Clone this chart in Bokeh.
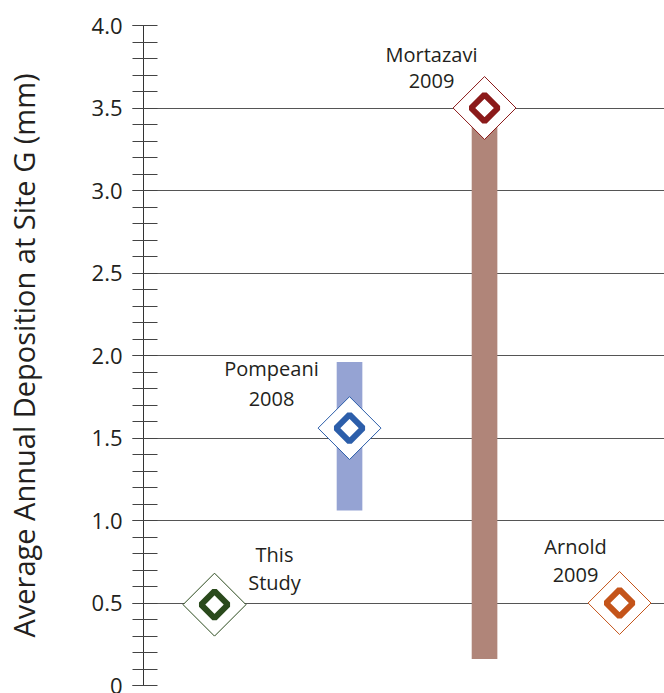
import numpy as np
from bokeh.plotting import figure
from bokeh.models import Range1d, FixedTicker, ColumnDataSource
from bokeh.core.properties import value
from bokeh.embed import file_html
from bokeh.resources import INLINE

# ---- data ----
studies = ["This Study", "Pompeani 2008", "Mortazavi 2009", "Arnold 2009"]
label_line1 = ["This", "Pompeani", "Mortazavi", "Arnold"]
label_line2 = ["Study", "2008", "2009", "2009"]
study_pos = [1, 2, 3, 4]
deposition = [0.49, 1.56, 3.5, 0.5]
range_pos = [2, 3]
range_low = [1.06, 0.16]
range_high = [1.96, 3.5]
y_major = [0, 0.5, 1.0, 1.5, 2.0, 2.5, 3.0, 3.5, 4.0]
y_labels = ["0", "0.5", "1.0", "1.5", "2.0", "2.5", "3.0", "3.5", "4.0"]
y_minor = [round(i * 0.1, 1) for i in range(41)]
axis_title = "Average Annual Deposition at Site G (mm)"

# ---- styles ----
marker_colors = ["#2a4a1c", "#2c5eaa", "#8b1a1a", "#c4541a"]
bar_colors = ["#95a3d3", "#b08579"]
lbl_dx = [60, -78, -53, -44]
lbl_dy1 = [-50, -60, -54, -57]
lbl_dy2 = [-22, -29, -27, -28]
FONT = "Open Sans"
TXT = "#231f20"

p = figure(width=664, height=693, output_backend="svg", toolbar_location=None,
           x_range=Range1d(0.474, 4.333), y_range=Range1d(0, 4.0),
           min_border_left=143, min_border_right=0, min_border_top=25,
           min_border_bottom=8)
p.outline_line_color = None
p.xaxis.visible = False
p.xgrid.visible = False
p.background_fill_color = "white"
p.border_fill_color = "white"

yax = p.yaxis[0]
yax.ticker = FixedTicker(ticks=y_major, minor_ticks=y_minor)
yax.major_label_overrides = {v: s for v, s in zip(y_major, y_labels)}
yax.major_label_text_font = FONT
yax.major_label_text_font_size = "22px"
yax.major_label_text_color = TXT
yax.major_label_standoff = 10
yax.axis_line_color = "#333333"
yax.axis_line_width = 1
yax.major_tick_out = 11
yax.major_tick_in = 0
yax.major_tick_line_color = "#555555"
yax.minor_tick_out = 11
yax.minor_tick_in = 14
yax.minor_tick_line_color = "#444444"
yax.axis_label = axis_title
yax.axis_label_text_font = FONT
yax.axis_label_text_font_size = "29px"
yax.axis_label_text_font_style = "normal"
yax.axis_label_text_color = TXT
yax.axis_label_standoff = 46

p.ygrid.ticker = FixedTicker(ticks=y_major)
p.ygrid.grid_line_color = "#555555"
p.ygrid.grid_line_width = 1

# range bars
bars = ColumnDataSource(dict(x=range_pos, top=range_high, bottom=range_low, color=bar_colors))
p.vbar(x="x", top="top", bottom="bottom", width=0.19, fill_color="color",
       line_color=None, source=bars)

# markers
src = ColumnDataSource(dict(x=study_pos, y=deposition, color=marker_colors,
                            l1=label_line1, l2=label_line2,
                            dx=lbl_dx, dy1=lbl_dy1, dy2=lbl_dy2))
p.scatter(x="x", y="y", marker="square", size=44.5, angle=np.pi / 4,
          fill_color="white", line_color="color", line_width=1, source=src)
p.scatter(x="x", y="y", marker="square", size=19, angle=np.pi / 4,
          fill_color="white", line_color="color", line_width=6, source=src)

# labels
p.text(x="x", y="y", text="l1", x_offset="dx", y_offset="dy1", source=src,
       text_font=value(FONT), text_font_size="20px", text_color=TXT,
       text_align="center", text_baseline="alphabetic")
p.text(x="x", y="y", text="l2", x_offset="dx", y_offset="dy2", source=src,
       text_font=value(FONT), text_font_size="20px", text_color=TXT,
       text_align="center", text_baseline="alphabetic")

open("out.html", "w").write(file_html(p, INLINE))
